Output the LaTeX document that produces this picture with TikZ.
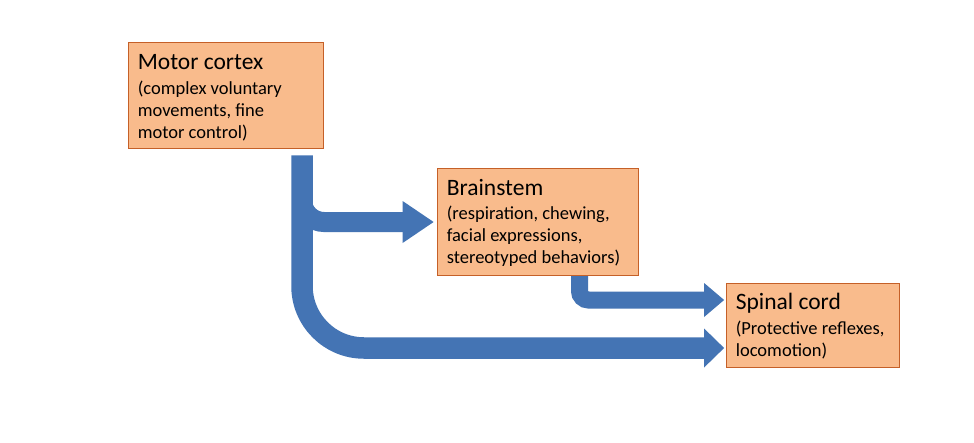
\documentclass[tikz,border=0pt]{standalone}
\usepackage{fontspec}
\setmainfont{Carlito}
\usetikzlibrary{calc}
\definecolor{arrowblue}{RGB}{68,116,180}
\definecolor{boxfill}{RGB}{249,187,140}
\definecolor{boxline}{RGB}{197,96,40}
\pgfdeclarelayer{bg}
\pgfsetlayers{bg,main}
\begin{document}
\begin{tikzpicture}[x=1pt,y=-1pt,
  box/.style={draw=boxline, line width=0.8pt, fill=boxfill, rectangle, inner sep=0pt},
  txt/.style={anchor=base west, inner sep=0pt, font=\fontsize{18.5}{22}\selectfont},
  shaft/.style={draw=arrowblue, line cap=butt},
  head/.style={fill=arrowblue}]
\useasboundingbox (0,0) rectangle (974,442);
\begin{pgfonlayer}{bg}
\fill[white] (0,0) rectangle (974,442);
\end{pgfonlayer}
% boxes
\node[box, minimum width=195pt, minimum height=106pt] (motor) at (225.5,95) {};
\node[box, minimum width=201pt, minimum height=107pt] (brain) at (537.5,221.5) {};
\node[box, minimum width=173pt, minimum height=84pt] (spinal) at (812.5,325) {};
% texts
\node[txt] (motorT) at ($(motor.north west)+(10,28)$) {\parbox[t]{200pt}{\raggedright{\fontsize{23.5}{28}\selectfont Motor cortex}\\[2.5pt](complex voluntary\\movements, fine\\motor control)}};
\node[txt] (brainT) at ($(brain.north west)+(10,27.7)$) {\parbox[t]{220pt}{\raggedright{\fontsize{23.5}{28}\selectfont Brainstem}\\[2.5pt](respiration, chewing,\\facial expressions,\\stereotyped behaviors)}};
\node[txt] (spinalT) at ($(spinal.north west)+(10,27)$) {\parbox[t]{200pt}{\raggedright{\fontsize{23.5}{28}\selectfont Spinal cord}\\[2.5pt](Protective reflexes,\\locomotion)}};
% arrows
\coordinate (a1s) at ($(motor.south)+(76.5,7)$);
\coordinate (a1t) at ($(spinal.west)+(-1.5,23)$);
\coordinate (a2s) at ($(motor.south)+(76.5,40)$);
\coordinate (a2t) at ($(brain.west)+(-3,0.5)$);
\coordinate (a3s) at ($(brain.south)+(42,0)$);
\coordinate (a3t) at ($(spinal.west)+(-1.5,-25)$);
\begin{pgfonlayer}{bg}
\draw[shaft, line width=21.5pt, rounded corners=62pt] (a1s) |- ($(a1t)+(-19,0)$);
\fill[head] (a1t) -- ++(-20,-19.5) -- ++(0,39) -- cycle;
\draw[shaft, line width=20pt, rounded corners=22pt] (a2s) |- ($(a2t)+(-30,0)$);
\fill[head] (a2t) -- ++(-31,-21) -- ++(0,42) -- cycle;
\draw[shaft, line width=17pt, rounded corners=9pt] (a3s) |- ($(a3t)+(-19,0)$);
\fill[head] (a3t) -- ++(-20,-17) -- ++(0,34) -- cycle;
\end{pgfonlayer}
\end{tikzpicture}
\end{document}
